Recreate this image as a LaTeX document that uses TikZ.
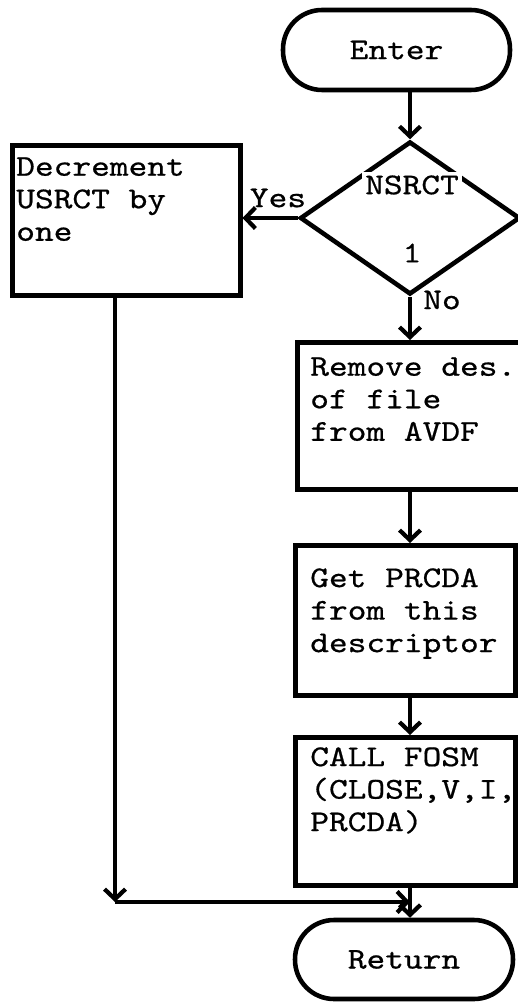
\documentclass[tikz,border=0pt]{standalone}
\usepackage{fontspec}
\setmonofont[FakeStretch=1.18,FakeBold=0.6]{lmmono10-regular.otf}
\usetikzlibrary{arrows.meta,shapes.geometric}
\newcommand\boxtxt[3]{\parbox[c][#2][t]{#1}{\raggedright #3}}
\begin{document}
\begin{tikzpicture}[x=0.02cm,y=-0.02cm,
  every node/.style={font=\ttfamily\fontsize{17.2}{18.5}\selectfont},
  proc/.style={draw,line width=2.6pt,rectangle,anchor=north west},
  term/.style={draw,line width=2.6pt,rectangle,rounded corners=0.78cm,inner sep=0pt},
  dec/.style={draw,line width=2.6pt,diamond,inner sep=0pt,minimum width=4.4cm,minimum height=3.06cm},
  flow/.style={line width=2.4pt,-{Straight Barb[length=0.2cm,width=0.42cm]}},
  lbl/.style={inner sep=1pt}]
\useasboundingbox (0,0) rectangle (517,1003);
% terminals
\node[term,minimum width=4.54cm,minimum height=1.6cm] (enter) at (396.5,50) {Enter};
\node[term,minimum width=4.36cm,minimum height=1.58cm] (ret) at (404,959.5) {Return};
% decision
\node[dec] (dia) at (410,218) {};
\node[lbl,fill=white,inner sep=2pt] (dtop) at (412,185) {NSRCT};
\node[lbl] (dbot) at (412,253) {1};
\node[lbl] (yes) at (278,198) {Yes};
\node[lbl] (no) at (442,300) {No};
% process boxes
\node[proc,inner xsep=0.08cm,inner ysep=0.24cm] (decr) at (10,143)
  {\boxtxt{4.40cm}{2.52cm}{\mbox{Decrement}\\\mbox{USRCT by}\\\mbox{one}}};
\node[proc,inner xsep=0.26cm,inner ysep=0.30cm] (remove) at (295,340)
  {\boxtxt{4.02cm}{2.34cm}{\mbox{Remove des.}\\\mbox{of file}\\\mbox{from AVDF}}};
\node[proc,inner xsep=0.30cm,inner ysep=0.46cm] (get) at (293,543)
  {\boxtxt{3.80cm}{2.08cm}{\mbox{Get PRCDA}\\\mbox{from this}\\\mbox{descriptor}}};
\node[proc,inner xsep=0.30cm,inner ysep=0.20cm] (call) at (293,735)
  {\boxtxt{3.80cm}{2.56cm}{\mbox{CALL FOSM}\\\mbox{(CLOSE,V,I,}\\\mbox{PRCDA)}}};
% connectors
\draw[flow] (enter.south -| dia.north) -- (dia.north);
\draw[flow] (dia.west) -- (decr.east |- dia.west);
\draw[flow] (dia.south) -- (remove.north -| dia.south);
\draw[flow] (remove.south -| dia.south) -- (get.north -| dia.south);
\draw[flow] (get.south -| dia.south) -- (call.north -| dia.south);
\draw[flow] (call.south -| dia.south) -- (ret.north -| dia.south);
\coordinate (corner) at (115,902);
\coordinate (join) at (dia.south |- corner);
\draw[flow] (decr.south -| corner) -- (corner);
\draw[flow] (corner) -- (join);
\end{tikzpicture}
\end{document}
